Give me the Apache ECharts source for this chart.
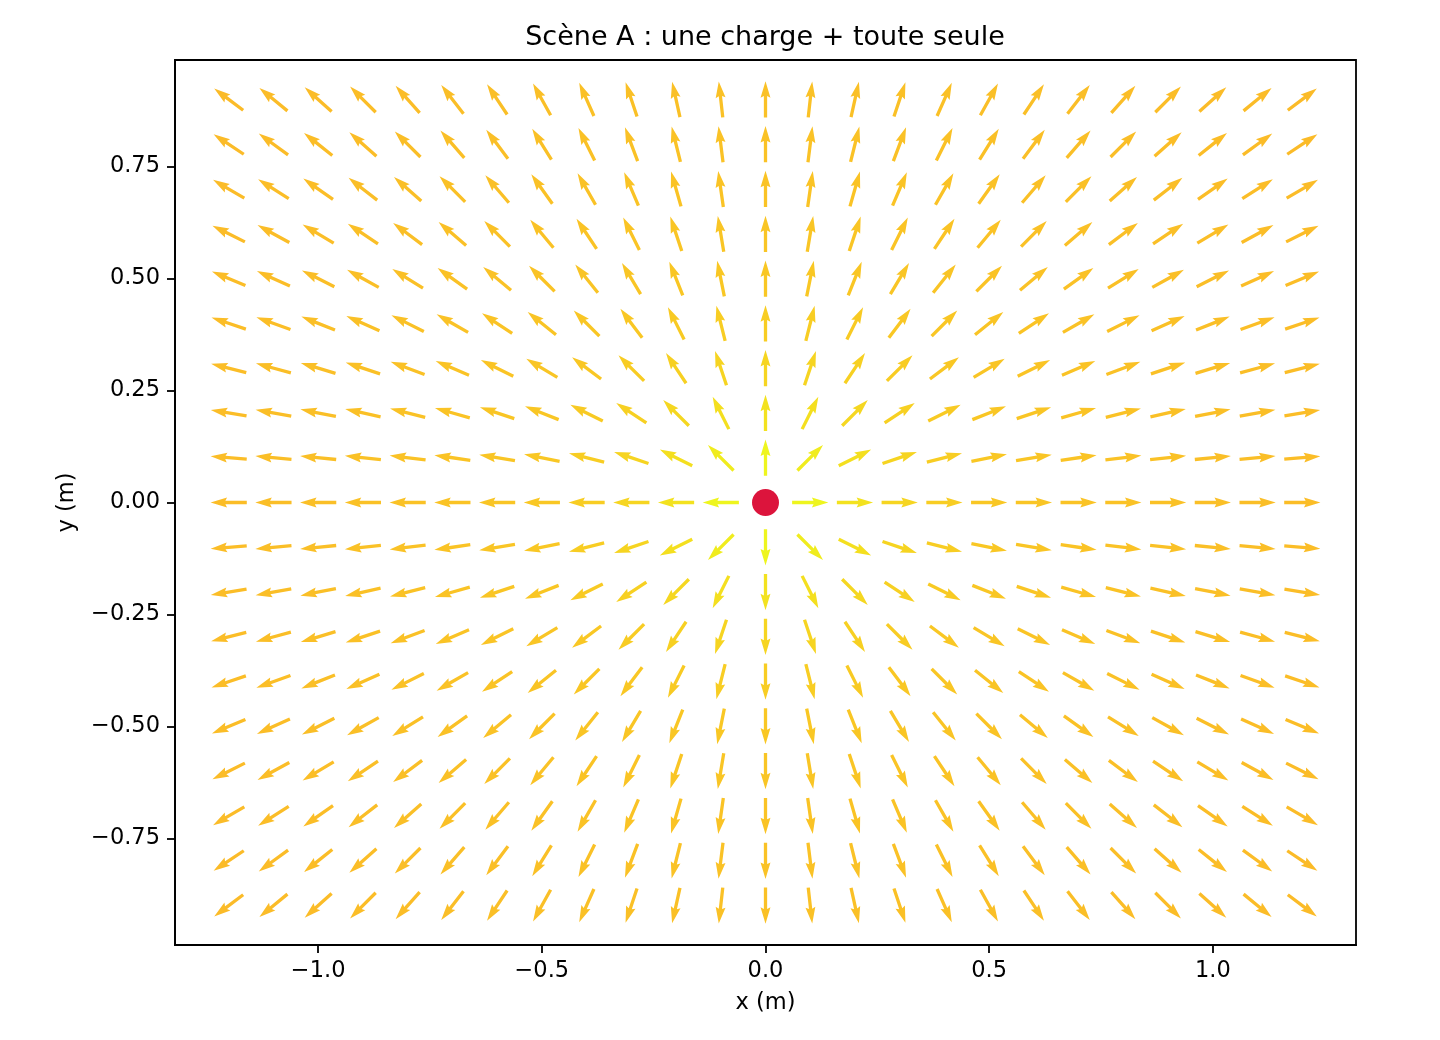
<!DOCTYPE html>
<html>
<head>
<meta charset="utf-8">
<script src="https://cdn.jsdelivr.net/npm/echarts@6/dist/echarts.min.js"></script>
<style>
html,body{margin:0;padding:0;background:#fff;}
#chart{width:1440px;height:1040px;}
</style>
</head>
<body>
<div id="chart"></div>
<script>
// Grid of sample points (m)
var gridX = [-1.2,-1.1,-1.0,-0.9,-0.8,-0.7,-0.6,-0.5,-0.4,-0.3,-0.2,-0.1,0.0,0.1,0.2,0.3,0.4,0.5,0.6,0.7,0.8,0.9,1.0,1.1,1.2];
var gridY = [-0.9,-0.8,-0.7,-0.6,-0.5,-0.4,-0.3,-0.2,-0.1,0.0,0.1,0.2,0.3,0.4,0.5,0.6,0.7,0.8,0.9];
// Charge(s): position and sign
var chargeX = [0.0];
var chargeY = [0.0];
var chargeQ = [1];
// Tick values
var xTicks = [-1.0,-0.5,0.0,0.5,1.0];
var yTicks = [-0.75,-0.5,-0.25,0.0,0.25,0.5,0.75];
// Colour stops (t: 0 = strongest field, 1 = weakest)
var colorStops = [
  [0.00, [238,245,30]],
  [0.26, [243,226,31]],
  [0.41, [246,213,33]],
  [0.60, [249,199,36]],
  [1.00, [251,187,40]]
];

// Field of the charge(s) at each grid point
var arrows = [];
var logs = [];
gridY.forEach(function(y){
  gridX.forEach(function(x){
    var ex = 0, ey = 0, skip = false;
    for (var k = 0; k < chargeX.length; k++) {
      var dx = x - chargeX[k], dy = y - chargeY[k];
      var r2 = dx*dx + dy*dy;
      if (r2 < 1e-6) { skip = true; break; }
      var r3 = Math.pow(r2, 1.5);
      ex += chargeQ[k]*dx/r3; ey += chargeQ[k]*dy/r3;
    }
    if (skip) return;
    var m = Math.sqrt(ex*ex + ey*ey);
    var lm = Math.log(m);
    logs.push(lm);
    arrows.push([x, y, ex/m, ey/m, lm]);
  });
});
var lmax = Math.max.apply(null, logs), lmin = Math.min.apply(null, logs);
arrows.forEach(function(a){ a[4] = (lmax - a[4]) / (lmax - lmin); });

function colorAt(t) {
  for (var i = 1; i < colorStops.length; i++) {
    if (t <= colorStops[i][0]) {
      var a = colorStops[i-1], b = colorStops[i];
      var f = (t - a[0]) / (b[0] - a[0]);
      var c = a[1].map(function(v, j){ return Math.round(v + (b[1][j]-v)*f); });
      return 'rgb(' + c.join(',') + ')';
    }
  }
  var l = colorStops[colorStops.length-1][1];
  return 'rgb(' + l.join(',') + ')';
}

function fmt(dec){
  return function(v){
    var s = Math.abs(v).toFixed(dec);
    return (v < -1e-9 ? '\u2212' : '') + s;
  };
}

var FONT = 'DejaVu Sans';
var axisLineStyle = {color: '#000', width: 1.8};
var chart = echarts.init(document.getElementById('chart'), null, {renderer: 'canvas'});
chart.setOption({
  backgroundColor: '#ffffff',
  animation: false,
  title: {
    text: 'Scène A : une charge + toute seule',
    left: 765,
    top: 24,
    textAlign: 'center',
    padding: 0,
    textStyle: {fontFamily: FONT, fontSize: 27, fontWeight: 'normal', color: '#000'}
  },
  grid: {
    left: 175, right: 84, top: 60, bottom: 95,
    show: true, borderColor: '#000', borderWidth: 1.8, backgroundColor: 'transparent'
  },
  xAxis: {
    type: 'value', min: -1.32, max: 1.32,
    name: 'x (m)', nameLocation: 'middle', nameGap: 47,
    nameTextStyle: {fontFamily: FONT, fontSize: 22.5, color: '#000'},
    axisLine: {show: true, onZero: false, lineStyle: axisLineStyle},
    splitLine: {show: false},
    axisTick: {show: true, length: 8, lineStyle: {color: '#000', width: 1.8}, customValues: xTicks},
    axisLabel: {fontFamily: FONT, fontSize: 22.5, color: '#000', margin: 15, customValues: xTicks, formatter: fmt(1)}
  },
  yAxis: {
    type: 'value', min: -0.988, max: 0.988,
    name: 'y (m)', nameLocation: 'middle', nameGap: 96,
    nameTextStyle: {fontFamily: FONT, fontSize: 22.5, color: '#000'},
    axisLine: {show: true, onZero: false, lineStyle: axisLineStyle},
    splitLine: {show: false},
    axisTick: {show: true, length: 8, lineStyle: {color: '#000', width: 1.8}, customValues: yTicks},
    axisLabel: {fontFamily: FONT, fontSize: 22.5, color: '#000', margin: 15, customValues: yTicks, formatter: fmt(2)}
  },
  series: [
    {
      type: 'custom',
      coordinateSystem: 'cartesian2d',
      data: arrows,
      encode: {x: 0, y: 1},
      silent: true,
      renderItem: function(params, api){
        var c = api.coord([api.value(0), api.value(1)]);
        var L = api.size([0.081, 0])[0];
        var dx = api.value(2), dy = -api.value(3);
        var nx = -dy, ny = dx;
        var w = 3.3, hw = 9.9, hl = 16.5, hal = 14.8;
        var h = L / 2;
        var local = [
          [-h, -w/2], [h - hal, -w/2], [h - hl, -hw/2], [h, 0],
          [h - hl, hw/2], [h - hal, w/2], [-h, w/2]
        ];
        var pts = local.map(function(p){
          return [c[0] + dx*p[0] + nx*p[1], c[1] + dy*p[0] + ny*p[1]];
        });
        return {
          type: 'polygon',
          shape: {points: pts},
          style: {fill: colorAt(api.value(4)), stroke: null}
        };
      },
      z: 2
    },
    {
      type: 'scatter',
      data: chargeX.map(function(x, i){ return [x, chargeY[i]]; }),
      symbol: 'circle',
      symbolSize: 27,
      itemStyle: {color: '#dc143c', opacity: 1},
      silent: true,
      z: 5
    }
  ]
});
</script>
</body>
</html>
